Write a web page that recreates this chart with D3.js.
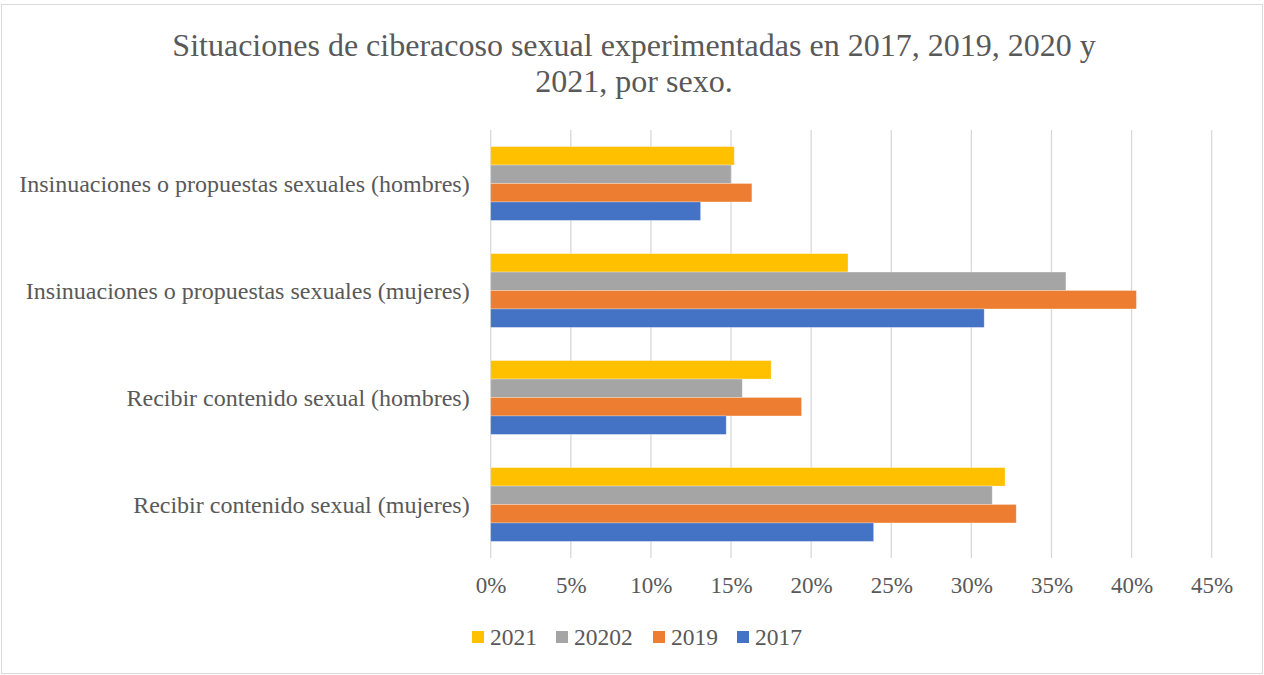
<!DOCTYPE html>
<html>
<head>
<meta charset="utf-8">
<script src="https://cdn.jsdelivr.net/npm/d3@7"></script>
<style>
	body { margin: 0; background: #fff; }
	text { font-family: "Liberation Serif", "Times New Roman", serif; fill: #595959; }
</style>
</head>
<body>
<div class="chart"></div>
<script>
var categories = [
	"Insinuaciones o propuestas sexuales (hombres)",
	"Insinuaciones o propuestas sexuales (mujeres)",
	"Recibir contenido sexual (hombres)",
	"Recibir contenido sexual (mujeres)"
];
var seriesNames = ["2021", "20202", "2019", "2017"];
var values2021 = [15.2, 22.3, 17.5, 32.1];
var values2020 = [15.0, 35.9, 15.7, 31.3];
var values2019 = [16.3, 40.3, 19.4, 32.8];
var values2017 = [13.1, 30.8, 14.7, 23.9];
var xTicks = [0, 5, 10, 15, 20, 25, 30, 35, 40, 45];
var seriesColors = ["#FFC000", "#A5A5A5", "#ED7D31", "#4472C4"];

var seriesValues = [values2021, values2020, values2019, values2017];

var svg = d3.select(".chart").append("svg").attr("width", 1264).attr("height", 675);
var margin = {top: 130, right: 52, bottom: 117, left: 490.7};
var width = 1264 - margin.left - margin.right;
var height = 675 - margin.top - margin.bottom;

// chart border
svg.append("rect")
	.attr("x", 1.5).attr("y", 4.5)
	.attr("width", 1261).attr("height", 669)
	.attr("fill", "#fff")
	.attr("stroke", "#d9d9d9")
	.attr("stroke-width", 1);

var title = svg.append("text")
	.attr("text-anchor", "middle")
	.attr("font-size", 32);
title.append("tspan").attr("x", 634).attr("y", 56).text("Situaciones de ciberacoso sexual experimentadas en 2017, 2019, 2020 y");
title.append("tspan").attr("x", 634).attr("y", 92).text("2021, por sexo.");

var g = svg.append("g").attr("transform", "translate(" + margin.left + "," + margin.top + ")");

var x = d3.scaleLinear().domain([0, 45]).range([0, 721]);
var y = d3.scaleBand().domain(categories).range([0, height]).paddingInner(0.31).paddingOuter(0.155);
var ySeries = d3.scaleBand().domain(seriesNames).range([0, y.bandwidth()]);

// gridlines
g.selectAll(".grid").data(xTicks)
	.enter().append("line")
	.attr("class", "grid")
	.attr("x1", function(d) { return x(d); })
	.attr("x2", function(d) { return x(d); })
	.attr("y1", 0)
	.attr("y2", height)
	.attr("stroke", "#d9d9d9")
	.attr("stroke-width", 1.3);

var groups = g.selectAll(".group").data(categories)
	.enter().append("g")
	.attr("class", "group")
	.attr("transform", function(d) { return "translate(0," + y(d) + ")"; });

groups.selectAll("rect")
	.data(function(d, i) {
		return seriesNames.map(function(s, j) { return {series: s, value: seriesValues[j][i], color: seriesColors[j]}; });
	})
	.enter().append("rect")
	.attr("x", x(0))
	.attr("y", function(d) { return ySeries(d.series); })
	.attr("width", function(d) { return x(d.value) - x(0); })
	.attr("height", ySeries.bandwidth())
	.attr("fill", function(d) { return d.color; })
	.attr("stroke", "#fff")
	.attr("stroke-opacity", 0.35)
	.attr("stroke-width", 0.8);

// category labels
g.selectAll(".catLabel").data(categories)
	.enter().append("text")
	.attr("class", "catLabel")
	.attr("x", -21)
	.attr("y", function(d) { return y(d) + y.bandwidth() / 2; })
	.attr("dy", "0.35em")
	.attr("text-anchor", "end")
	.attr("font-size", 24)
	.text(function(d) { return d; });

// x axis labels
var xAxis = g.append("g")
	.attr("transform", "translate(0," + height + ")")
	.call(d3.axisBottom(x).tickValues(xTicks).tickSize(0).tickPadding(19).tickFormat(function(d) { return d + "%"; }));
xAxis.select(".domain").remove();
xAxis.selectAll("text")
	.attr("font-size", 23)
	.attr("fill", "#595959")
	.style("font-family", "'Liberation Serif', 'Times New Roman', serif");

// legend
var legendX = [472, 556, 653, 737];
var legend = svg.selectAll(".legend").data(seriesNames)
	.enter().append("g")
	.attr("class", "legend")
	.attr("transform", function(d, i) { return "translate(" + legendX[i] + ",637)"; });

legend.append("rect")
	.attr("x", 0).attr("y", -6)
	.attr("width", 12).attr("height", 12)
	.attr("fill", function(d, i) { return seriesColors[i]; });

legend.append("text")
	.attr("x", 18)
	.attr("dy", "0.35em")
	.attr("font-size", 23.5)
	.text(function(d) { return d; });
</script>
</body>
</html>
